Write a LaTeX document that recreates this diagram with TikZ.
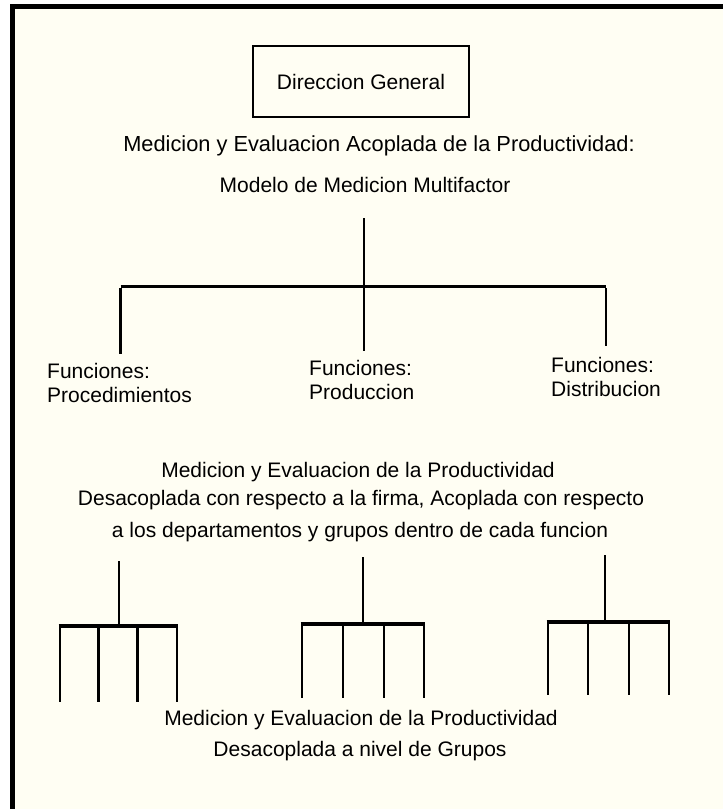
\documentclass[tikz,border=0pt]{standalone}
\usepackage{fontspec}
\setmainfont{Liberation Sans}
\definecolor{paper}{RGB}{255,254,243}
\begin{document}
\begin{tikzpicture}[x=1pt,y=-1pt,
  lbl/.style={inner sep=0pt, font=\fontsize{21}{24}\selectfont},
  biglbl/.style={inner sep=0pt, font=\fontsize{21.8}{25}\selectfont},
  boxed/.style={lbl, draw, line width=1.7pt, minimum width=216pt, minimum height=71pt},
  bar/.style={line width=3.6pt},
  leg/.style={line width=2.8pt}]
\useasboundingbox (0,0) rectangle (723,809);
% page and frame
\fill[white] (0,0) rectangle (723,809);
\fill[paper] (15,9) rectangle (723,809);
\fill[black] (10,4) rectangle (723,9);
\fill[black] (10,4) rectangle (15,809);

% top box and headings
\node[boxed] (dg) at (361,81.5) {Direccion General};
\node[biglbl] (t1) at (379,146) {Medicion y Evaluacion Acoplada de la Productividad:};
\node[lbl] (t2) at (365,185) {Modelo de Medicion Multifactor};

% function labels
\node[lbl, anchor=north west, align=left] (f1) at (47,363) {Funciones:\\Procedimientos};
\node[lbl, anchor=north west, align=left] (f2) at (309,360) {Funciones:\\Produccion};
\node[lbl, anchor=north west, align=left] (f3) at (551,357) {Funciones:\\Distribucion};

% first tree: stem, bar and three drops
\coordinate (s0) at (364,218);
\coordinate (j0) at (364,286.5);
\coordinate (jl) at (120.5,286.5);
\coordinate (jr) at (606,286.5);
\coordinate (d1) at (120.5,354);
\coordinate (d2) at (364,351);
\coordinate (d3) at (606,346);
\draw[leg] (s0) -- (j0);
\draw[bar] (jl) -- (jr);
\draw[leg] ([yshift=-1.5pt]jl) -- (d1);
\draw[leg] (j0) -- (d2);
\draw[leg] ([yshift=-1.5pt]jr) -- (d3);

% middle text block
\node[lbl] (m1) at (358,472) {Medicion y Evaluacion de la Productividad};
\node[lbl] (m2) at (361,500) {Desacoplada con respecto a la firma, Acoplada con respecto};
\node[lbl] (m3) at (360,532) {a los departamentos y grupos dentro de cada funcion};

% group trees: stem x, top, bar y, four prong x, bottom
\foreach \n/\sx/\st/\by/\pa/\pb/\pc/\pd/\bt in {
    a/119/561/626/60/98.5/137.5/177/702,
    b/363/557/624/302/343/384/424/698,
    c/605/555/622/548/588/629/669/695}{
  \coordinate (g\n-top) at (\sx,\st);
  \coordinate (g\n-j) at (\sx,\by);
  \coordinate (g\n-l) at (\pa,\by);
  \coordinate (g\n-r) at (\pd,\by);
  \draw[leg] (g\n-top) -- (g\n-j);
  \draw[bar] ([xshift=-1.4pt]g\n-l) -- ([xshift=1.4pt]g\n-r);
  \foreach \px in {\pa,\pb,\pc,\pd}{
    \draw[leg] (\px,\by) -- (\px,\bt);
  }
}

% bottom text
\node[lbl] (b1) at (361,720) {Medicion y Evaluacion de la Productividad};
\node[lbl] (b2) at (360,751) {Desacoplada a nivel de Grupos};
\end{tikzpicture}
\end{document}
